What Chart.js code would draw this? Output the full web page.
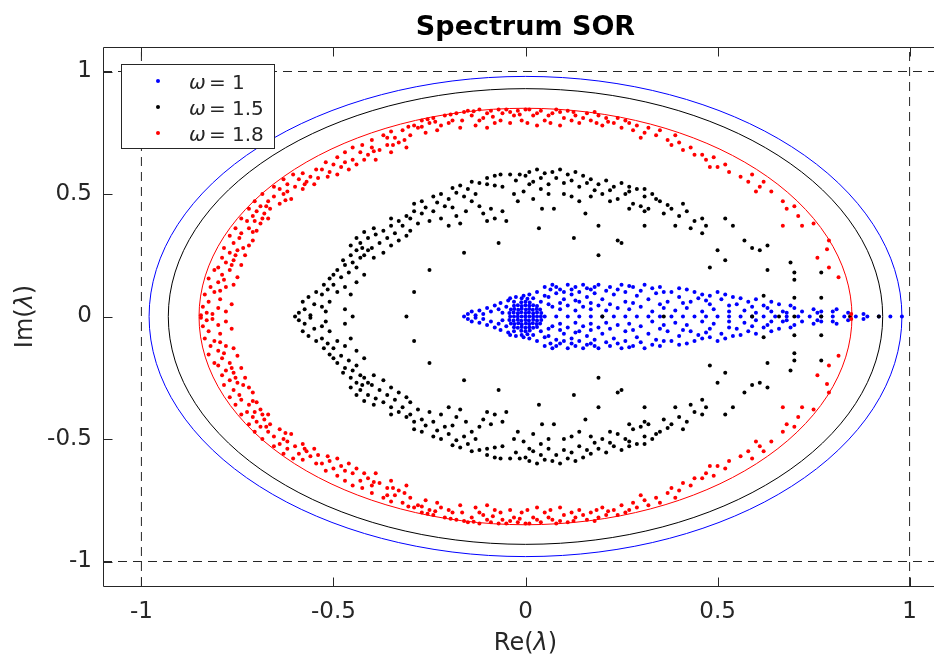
<!DOCTYPE html>
<html><head><meta charset="utf-8">
<script src="https://cdn.jsdelivr.net/npm/chart.js@4/dist/chart.umd.min.js"></script>
<style>html,body{margin:0;padding:0;background:#fff;overflow:hidden;width:934px;height:656px}
#wrap{width:960px;height:656px}</style></head>
<body><div id="wrap"><canvas id="c" width="960" height="656"></canvas></div>
<script>
const titleText = 'Spectrum SOR';
const xRange = [-1.1, 1.1];
const yRange = [-1.1, 1.1];
const xTicks = [-1, -0.5, 0, 0.5, 1];
const yTicks = [-1, -0.5, 0, 0.5, 1];
const xTickLabels = ['-1', '-0.5', '0', '0.5', '1'];
const yTickLabels = ['-1', '-0.5', '0', '0.5', '1'];
const omegaValues = ['1', '1.5', '1.8'];
const seriesColors = ['#0000ff', '#000000', '#ff0000'];
const circleRadii = [0.98, 0.93, 0.85];
const unitBox = [-1, 1];

const bluePts = [
 [-0.04,0],[-0.03,0],[-0.02,0],[-0.01,0],[0,0],[0.01,0],[0.02,0],[0.03,0],[0.04,0],
 [-0.042,0.014],[-0.031,0.016],[-0.02,0.013],[-0.011,0.017],[0.0,0.014],[0.009,0.016],[0.02,0.013],[0.03,0.016],[0.041,0.014],
 [-0.038,0.029],[-0.029,0.031],[-0.019,0.028],[-0.01,0.032],[0.001,0.029],[0.01,0.031],[0.019,0.028],[0.029,0.031],[0.038,0.029],
 [-0.03,0.044],[-0.02,0.046],[-0.01,0.043],[0.0,0.046],[0.01,0.044],[0.02,0.046],[0.03,0.043],
 [-0.011,0.058],[0.0,0.06],[0.011,0.057],
 [-0.042,-0.014],[-0.031,-0.016],[-0.02,-0.013],[-0.011,-0.017],[0.0,-0.014],[0.009,-0.016],[0.02,-0.013],[0.03,-0.016],[0.041,-0.014],
 [-0.038,-0.029],[-0.029,-0.031],[-0.019,-0.028],[-0.01,-0.032],[0.001,-0.029],[0.01,-0.031],[0.019,-0.028],[0.029,-0.031],[0.038,-0.029],
 [-0.03,-0.044],[-0.02,-0.046],[-0.01,-0.043],[0.0,-0.046],[0.01,-0.044],[0.02,-0.046],[0.03,-0.043],
 [-0.011,-0.058],[0.0,-0.06],[0.011,-0.057],
 [-0.16,0],[-0.15,0.01],[-0.14,0.02],[-0.13,0.005],[-0.12,0.025],[-0.11,0.01],[-0.10,0.035],[-0.09,0.02],[-0.08,0.045],[-0.07,0.03],[-0.065,0.055],[-0.06,0.015],[-0.05,0.04],[-0.045,0.065],[-0.04,0.075],[-0.03,0.06],[-0.025,0.08],[-0.01,0.075],[-0.005,0.085],[0.005,0.072],[0.01,0.09],[0.02,0.075],[0.03,0.10],[0.04,0.06],[0.05,0.085],[0.06,0.05],[0.065,0.11],
 [-0.15,-0.01],[-0.14,-0.02],[-0.13,-0.005],[-0.12,-0.025],[-0.11,-0.01],[-0.10,-0.035],[-0.09,-0.02],[-0.08,-0.045],[-0.07,-0.03],[-0.065,-0.055],[-0.06,-0.015],[-0.05,-0.04],[-0.045,-0.065],[-0.04,-0.075],[-0.03,-0.06],[-0.025,-0.08],[-0.01,-0.075],[-0.005,-0.085],[0.005,-0.072],[0.01,-0.09],[0.02,-0.075],[0.03,-0.10],[0.04,-0.06],[0.05,-0.085],[0.06,-0.05],[0.065,-0.11],
 [0.05,0.12],[0.07,0.13],[0.09,0.11],[0.11,0.13],[0.13,0.12],[0.15,0.13],[0.17,0.11],[0.19,0.13],[0.22,0.12],[0.25,0.13],[0.28,0.12],[0.31,0.13],[0.35,0.12],[0.38,0.10],[0.42,0.11],[0.46,0.09],[0.50,0.10],[0.54,0.08],
 [0.06,0.08],[0.08,0.095],[0.10,0.07],[0.12,0.09],[0.14,0.06],[0.16,0.08],[0.18,0.095],[0.20,0.07],[0.23,0.09],[0.26,0.06],[0.29,0.085],[0.32,0.07],[0.34,0.095],[0.37,0.06],[0.40,0.08],[0.43,0.06],[0.45,0.075],[0.48,0.05],[0.51,0.07],[0.55,0.05],[0.58,0.06],[0.62,0.045],[0.66,0.05],[0.70,0.035],
 [0.07,0.04],[0.09,0.03],[0.11,0.045],[0.13,0.025],[0.15,0.04],[0.17,0.03],[0.19,0.045],[0.21,0.025],[0.24,0.035],[0.27,0.03],[0.30,0.04],[0.33,0.02],[0.36,0.035],[0.39,0.025],[0.42,0.035],[0.46,0.02],[0.49,0.03],[0.53,0.02],[0.57,0.025],[0.60,0.015],[0.64,0.02],[0.68,0.015],[0.72,0.02],[0.76,0.015],[0.80,0.02],[0.84,0.015],[0.88,0.01],[0.75,0.03],[0.81,0.03],[0.67,0.02],[0.77,0.02],
 [0.08,0.12],[0.10,0.10],[0.12,0.11],[0.14,0.10],[0.16,0.115],[0.18,0.12],[0.21,0.105],[0.24,0.11],[0.26,0.10],[0.27,0.125],[0.30,0.105],[0.33,0.115],[0.36,0.10],[0.40,0.115],[0.44,0.10],[0.48,0.085],[0.52,0.09],[0.56,0.075],[0.60,0.07],[0.64,0.06],[0.09,0.055],[0.13,0.065],[0.17,0.055],[0.22,0.05],[0.28,0.055],[0.35,0.05],[0.41,0.055],[0.47,0.065],[0.53,0.045],[0.59,0.04],[0.63,0.035],[0.69,0.045],
 [0.05,-0.12],[0.07,-0.13],[0.09,-0.11],[0.11,-0.13],[0.13,-0.12],[0.15,-0.13],[0.17,-0.11],[0.19,-0.13],[0.22,-0.12],[0.25,-0.13],[0.28,-0.12],[0.31,-0.13],[0.35,-0.12],[0.38,-0.10],[0.42,-0.11],[0.46,-0.09],[0.50,-0.10],[0.54,-0.08],
 [0.06,-0.08],[0.08,-0.095],[0.10,-0.07],[0.12,-0.09],[0.14,-0.06],[0.16,-0.08],[0.18,-0.095],[0.20,-0.07],[0.23,-0.09],[0.26,-0.06],[0.29,-0.085],[0.32,-0.07],[0.34,-0.095],[0.37,-0.06],[0.40,-0.08],[0.43,-0.06],[0.45,-0.075],[0.48,-0.05],[0.51,-0.07],[0.55,-0.05],[0.58,-0.06],[0.62,-0.045],[0.66,-0.05],[0.70,-0.035],
 [0.07,-0.04],[0.09,-0.03],[0.11,-0.045],[0.13,-0.025],[0.15,-0.04],[0.17,-0.03],[0.19,-0.045],[0.21,-0.025],[0.24,-0.035],[0.27,-0.03],[0.30,-0.04],[0.33,-0.02],[0.36,-0.035],[0.39,-0.025],[0.42,-0.035],[0.46,-0.02],[0.49,-0.03],[0.53,-0.02],[0.57,-0.025],[0.60,-0.015],[0.64,-0.02],[0.68,-0.015],[0.72,-0.02],[0.76,-0.015],[0.80,-0.02],[0.84,-0.015],[0.88,-0.01],[0.75,-0.03],[0.81,-0.03],[0.67,-0.02],[0.77,-0.02],
 [0.08,-0.12],[0.10,-0.10],[0.12,-0.11],[0.14,-0.10],[0.16,-0.115],[0.18,-0.12],[0.21,-0.105],[0.24,-0.11],[0.26,-0.10],[0.27,-0.125],[0.30,-0.105],[0.33,-0.115],[0.36,-0.10],[0.40,-0.115],[0.44,-0.10],[0.48,-0.085],[0.52,-0.09],[0.56,-0.075],[0.60,-0.07],[0.64,-0.06],[0.09,-0.055],[0.13,-0.065],[0.17,-0.055],[0.22,-0.05],[0.28,-0.055],[0.35,-0.05],[0.41,-0.055],[0.47,-0.065],[0.53,-0.045],[0.59,-0.04],[0.63,-0.035],[0.69,-0.045],
 [0.05,0],[0.08,0],[0.11,0],[0.14,0],[0.17,0],[0.20,0],[0.23,0],[0.26,0],[0.29,0],[0.32,0],[0.35,0],[0.38,0],[0.41,0],[0.44,0],[0.47,0],[0.50,0],[0.53,0],[0.56,0],[0.59,0],[0.62,0],[0.65,0],[0.68,0],[0.71,0],[0.74,0],[0.77,0],[0.80,0],[0.83,0],[0.86,0],[0.89,0],[0.92,0],[0.95,0],[0.98,0]
];

const blackPts = [
 [-0.60,0],[-0.59,0.015],[-0.575,0.03],[-0.56,0.005],[-0.55,0.05],[-0.53,0.04],[-0.51,0.06],[-0.47,0.03],[-0.45,0],[-0.52,0.02],
 [-0.53,0.09],[-0.515,0.11],[-0.50,0.13],[-0.49,0.10],[-0.47,0.12],[-0.455,0.09],[-0.44,0.14],[-0.48,0.16],[-0.46,0.18],[-0.50,0.17],[-0.44,0.20],[-0.42,0.17],[-0.47,0.21],
 [-0.44,0.27],[-0.43,0.30],[-0.42,0.25],[-0.41,0.32],[-0.40,0.28],[-0.39,0.335],[-0.38,0.30],[-0.37,0.26],[-0.36,0.32],[-0.35,0.29],[-0.34,0.34],[-0.33,0.31],[-0.31,0.33],[-0.30,0.35],[-0.395,0.24],
 [-0.32,0.37],[-0.30,0.40],[-0.28,0.38],[-0.27,0.42],[-0.25,0.39],[-0.24,0.43],[-0.22,0.40],[-0.20,0.37],[-0.18,0.41],[-0.17,0.38],[-0.29,0.43],
 [-0.24,0.49],[-0.22,0.50],[-0.20,0.48],[-0.18,0.505],[-0.16,0.49],[-0.14,0.47],[-0.12,0.45],[-0.11,0.42],[-0.09,0.44],[-0.08,0.40],[-0.06,0.43],[-0.05,0.39],[-0.10,0.39],
 [-0.14,0.55],[-0.12,0.545],[-0.10,0.54],[-0.08,0.535],[-0.06,0.53],[-0.065,0.58],[-0.04,0.58],[-0.015,0.58],[-0.03,0.50],[-0.005,0.51],
 [0.01,0.59],[0.03,0.60],[0.05,0.585],[0.07,0.59],[0.09,0.60],[0.11,0.58],[0.13,0.59],[0.15,0.575],[0.02,0.55],[0.06,0.54],[0.10,0.545],[0.14,0.53],[0.01,0.54],[0.10,0.50],[0.14,0.47],
 [0.17,0.56],[0.19,0.54],[0.21,0.555],[0.23,0.53],[0.25,0.545],[0.27,0.51],[0.29,0.52],[0.31,0.49],[0.33,0.50],[0.35,0.47],[0.20,0.50],[0.24,0.48],[0.28,0.46],[0.32,0.44],[0.36,0.42],[0.26,0.50],[0.30,0.45],
 [0.38,0.44],[0.40,0.41],[0.42,0.43],[0.44,0.39],[0.46,0.40],[0.47,0.37],[0.39,0.37],[0.43,0.36],[0.41,0.46],
 [0.035,0.36],[0.043,0.44],[0.074,0.44],[0.126,0.32],[0.156,0.42],[0.19,0.37],[0.19,0.25],[0.24,0.31],[0.25,0.30],[0.31,0.37],[0.46,0.34],[0.50,0.27],[0.52,0.23],[0.48,0.20],[0.52,0.40],[0.54,0.37],[0.57,0.31],[0.59,0.28],[0.61,0.27],[0.63,0.29],[0.69,0.22],[0.63,0.19],[0.70,0.18],[0.77,0.18],[0.70,0.15],[0.70,0.077],[0.77,0.077],[0.62,0.085],
 [-0.29,0.10],[-0.25,0.19],[-0.16,0.26],[-0.07,0.30],
 [-0.58,0.06],[-0.565,0.08],[-0.545,0.10],[-0.525,0.13],[-0.51,0.155],[-0.49,0.19],[-0.475,0.23],[-0.455,0.25],[-0.45,0.22],[-0.43,0.24],[-0.425,0.28],[-0.41,0.27],[-0.455,0.29],[-0.44,0.32],[-0.42,0.345],[-0.395,0.36],[-0.37,0.35],[-0.35,0.37],[-0.33,0.39],[-0.31,0.41],[-0.35,0.40],[-0.29,0.46],[-0.27,0.47],[-0.26,0.445],[-0.23,0.465],[-0.21,0.45],[-0.19,0.445],[-0.155,0.43],[-0.13,0.50],[-0.15,0.52],[-0.17,0.535],[-0.19,0.525],[-0.10,0.565],[-0.08,0.575],[-0.025,0.555],[0.0,0.575],[0.04,0.565],[0.08,0.565],[0.12,0.555],[0.16,0.545],[0.18,0.515],[0.22,0.515],[0.27,0.53],[0.31,0.52],[0.34,0.48],[0.37,0.455],[0.31,0.43],[0.27,0.44],[0.22,0.47],[0.17,0.49],[0.12,0.49],[0.06,0.50],[0.04,0.52],[-0.02,0.47],[0.02,0.48],
 [-0.59,-0.015],[-0.575,-0.03],[-0.56,-0.005],[-0.55,-0.05],[-0.53,-0.04],[-0.51,-0.06],[-0.47,-0.03],[-0.52,-0.02],
 [-0.53,-0.09],[-0.515,-0.11],[-0.50,-0.13],[-0.49,-0.10],[-0.47,-0.12],[-0.455,-0.09],[-0.44,-0.14],[-0.48,-0.16],[-0.46,-0.18],[-0.50,-0.17],[-0.44,-0.20],[-0.42,-0.17],[-0.47,-0.21],
 [-0.44,-0.27],[-0.43,-0.30],[-0.42,-0.25],[-0.41,-0.32],[-0.40,-0.28],[-0.39,-0.335],[-0.38,-0.30],[-0.37,-0.26],[-0.36,-0.32],[-0.35,-0.29],[-0.34,-0.34],[-0.33,-0.31],[-0.31,-0.33],[-0.30,-0.35],[-0.395,-0.24],
 [-0.32,-0.37],[-0.30,-0.40],[-0.28,-0.38],[-0.27,-0.42],[-0.25,-0.39],[-0.24,-0.43],[-0.22,-0.40],[-0.20,-0.37],[-0.18,-0.41],[-0.17,-0.38],[-0.29,-0.43],
 [-0.24,-0.49],[-0.22,-0.50],[-0.20,-0.48],[-0.18,-0.505],[-0.16,-0.49],[-0.14,-0.47],[-0.12,-0.45],[-0.11,-0.42],[-0.09,-0.44],[-0.08,-0.40],[-0.06,-0.43],[-0.05,-0.39],[-0.10,-0.39],
 [-0.14,-0.55],[-0.12,-0.545],[-0.10,-0.54],[-0.08,-0.535],[-0.06,-0.53],[-0.065,-0.58],[-0.04,-0.58],[-0.015,-0.58],[-0.03,-0.50],[-0.005,-0.51],
 [0.01,-0.59],[0.03,-0.60],[0.05,-0.585],[0.07,-0.59],[0.09,-0.60],[0.11,-0.58],[0.13,-0.59],[0.15,-0.575],[0.02,-0.55],[0.06,-0.54],[0.10,-0.545],[0.14,-0.53],[0.01,-0.54],[0.10,-0.50],[0.14,-0.47],
 [0.17,-0.56],[0.19,-0.54],[0.21,-0.555],[0.23,-0.53],[0.25,-0.545],[0.27,-0.51],[0.29,-0.52],[0.31,-0.49],[0.33,-0.50],[0.35,-0.47],[0.20,-0.50],[0.24,-0.48],[0.28,-0.46],[0.32,-0.44],[0.36,-0.42],[0.26,-0.50],[0.30,-0.45],
 [0.38,-0.44],[0.40,-0.41],[0.42,-0.43],[0.44,-0.39],[0.46,-0.40],[0.47,-0.37],[0.39,-0.37],[0.43,-0.36],[0.41,-0.46],
 [0.035,-0.36],[0.043,-0.44],[0.074,-0.44],[0.126,-0.32],[0.156,-0.42],[0.19,-0.37],[0.19,-0.25],[0.24,-0.31],[0.25,-0.30],[0.31,-0.37],[0.46,-0.34],[0.50,-0.27],[0.52,-0.23],[0.48,-0.20],[0.52,-0.40],[0.54,-0.37],[0.57,-0.31],[0.59,-0.28],[0.61,-0.27],[0.63,-0.29],[0.69,-0.22],[0.63,-0.19],[0.70,-0.18],[0.77,-0.18],[0.70,-0.15],[0.70,-0.077],[0.77,-0.077],[0.62,-0.085],
 [-0.29,-0.10],[-0.25,-0.19],[-0.16,-0.26],[-0.07,-0.30],
 [-0.58,-0.06],[-0.565,-0.08],[-0.545,-0.10],[-0.525,-0.13],[-0.51,-0.155],[-0.49,-0.19],[-0.475,-0.23],[-0.455,-0.25],[-0.45,-0.22],[-0.43,-0.24],[-0.425,-0.28],[-0.41,-0.27],[-0.455,-0.29],[-0.44,-0.32],[-0.42,-0.345],[-0.395,-0.36],[-0.37,-0.35],[-0.35,-0.37],[-0.33,-0.39],[-0.31,-0.41],[-0.35,-0.40],[-0.29,-0.46],[-0.27,-0.47],[-0.26,-0.445],[-0.23,-0.465],[-0.21,-0.45],[-0.19,-0.445],[-0.155,-0.43],[-0.13,-0.50],[-0.15,-0.52],[-0.17,-0.535],[-0.19,-0.525],[-0.10,-0.565],[-0.08,-0.575],[-0.025,-0.555],[0.0,-0.575],[0.04,-0.565],[0.08,-0.565],[0.12,-0.555],[0.16,-0.545],[0.18,-0.515],[0.22,-0.515],[0.27,-0.53],[0.31,-0.52],[0.34,-0.48],[0.37,-0.455],[0.31,-0.43],[0.27,-0.44],[0.22,-0.47],[0.17,-0.49],[0.12,-0.49],[0.06,-0.50],[0.04,-0.52],[-0.02,-0.47],[0.02,-0.48],
 [-0.31,0],[0.20,0],[0.36,0],[0.59,0],[0.66,0],[0.70,0],[0.77,0],[0.845,0],[0.92,0]
];

const redPts = [
 [-0.845,0.005],[-0.83,0.015],[-0.815,0.01],[-0.84,0.04],[-0.80,0.035],[-0.78,0.02],[-0.825,0.06],[-0.795,0.07],[-0.765,0.05],
 [-0.81,0.10],[-0.78,0.12],[-0.80,0.14],[-0.76,0.13],[-0.79,0.17],[-0.77,0.19],[-0.75,0.16],[-0.81,0.19],
 [-0.78,0.22],[-0.76,0.23],[-0.74,0.21],[-0.77,0.26],[-0.75,0.27],[-0.73,0.25],[-0.76,0.30],[-0.72,0.29],[-0.745,0.32],[-0.71,0.31],
 [-0.74,0.34],[-0.72,0.36],[-0.70,0.35],[-0.725,0.39],[-0.69,0.38],[-0.71,0.41],[-0.67,0.40],[-0.70,0.43],[-0.68,0.42],
 [-0.69,0.45],[-0.665,0.44],[-0.67,0.47],[-0.64,0.46],[-0.655,0.49],[-0.63,0.50],[-0.61,0.48],[-0.64,0.52],[-0.62,0.51],
 [-0.62,0.54],[-0.60,0.53],[-0.59,0.56],[-0.57,0.55],[-0.56,0.57],[-0.58,0.52],[-0.55,0.54],
 [-0.53,0.60],[-0.51,0.59],[-0.50,0.62],[-0.48,0.61],[-0.47,0.63],[-0.46,0.60],[-0.45,0.64],[-0.49,0.58],
 [-0.43,0.67],[-0.41,0.66],[-0.40,0.69],[-0.38,0.68],[-0.36,0.70],[-0.35,0.67],[-0.33,0.71],[-0.31,0.69],[-0.39,0.64],
 [-0.40,0.72],[-0.37,0.74],[-0.34,0.73],[-0.32,0.76],[-0.30,0.74],[-0.28,0.77],
 [-0.29,0.78],[-0.27,0.80],[-0.25,0.79],[-0.24,0.81],[-0.22,0.78],[-0.21,0.82],[-0.19,0.80],[-0.18,0.83],[-0.26,0.75],[-0.23,0.76],[-0.17,0.77],
 [-0.15,0.84],[-0.14,0.82],[-0.12,0.845],[-0.11,0.81],[-0.09,0.84],[-0.08,0.79],[-0.06,0.83],[-0.05,0.845],[-0.03,0.82],[-0.02,0.84],[-0.01,0.80],[-0.13,0.78],[-0.10,0.77],
 [0.01,0.845],[0.02,0.82],[0.04,0.84],[0.05,0.80],[0.07,0.83],[0.08,0.845],[0.10,0.81],[0.11,0.84],[0.13,0.82],[0.14,0.79],[0.16,0.83],[0.17,0.80],[0.19,0.82],[0.20,0.78],[0.21,0.81],[0.03,0.78],[0.09,0.78],
 [0.23,0.79],[0.25,0.77],[0.26,0.80],[0.28,0.76],[0.29,0.78],[0.31,0.75],[0.32,0.77],[0.34,0.74],[0.35,0.76],[0.30,0.73],
 [0.37,0.72],[0.38,0.70],[0.40,0.71],[0.41,0.68],[0.43,0.69],[0.44,0.66],[0.39,0.74],
 [0.46,0.66],[0.47,0.64],[0.49,0.65],[0.50,0.61],[0.52,0.62],[0.53,0.59],[0.48,0.61],
 [0.56,0.57],[0.58,0.55],[0.59,0.58],[0.61,0.53],[0.62,0.55],[0.64,0.51],[0.60,0.51],
 [0.67,0.47],[0.68,0.44],[0.70,0.45],[0.71,0.41],[0.75,0.38],[0.72,0.37],[0.67,0.37],
 [0.79,0.31],[0.785,0.275],[0.76,0.24],[0.79,0.20],[0.815,0.16],[0.848,0.01],
 [-0.835,0.09],[-0.82,0.12],[-0.795,0.105],[-0.825,0.155],[-0.785,0.15],[-0.80,0.20],[-0.79,0.24],[-0.765,0.21],[-0.785,0.28],[-0.755,0.25],[-0.77,0.33],[-0.735,0.28],[-0.755,0.36],[-0.71,0.345],[-0.74,0.40],[-0.705,0.39],[-0.72,0.44],[-0.685,0.40],[-0.705,0.47],[-0.675,0.45],[-0.685,0.50],[-0.655,0.53],[-0.625,0.475],[-0.63,0.56],[-0.605,0.58],[-0.58,0.585],[-0.575,0.54],[-0.545,0.60],[-0.54,0.565],[-0.52,0.63],[-0.515,0.57],[-0.49,0.65],[-0.47,0.67],[-0.44,0.62],[-0.45,0.69],[-0.425,0.70],[-0.42,0.64],[-0.395,0.675],[-0.36,0.73],[-0.35,0.755],[-0.345,0.70],[-0.315,0.72],[-0.305,0.775],[-0.27,0.775],[-0.255,0.805],[-0.235,0.795],[-0.20,0.79],[-0.195,0.825],[-0.165,0.80],[-0.16,0.835],[-0.135,0.838],[-0.12,0.80],[-0.10,0.83],[-0.085,0.815],[-0.07,0.845],[-0.065,0.80],[-0.04,0.835],[-0.04,0.79],[-0.015,0.825],[0.0,0.845],[0.005,0.79],[0.03,0.83],[0.06,0.82],[0.065,0.79],[0.09,0.835],[0.12,0.80],[0.125,0.835],[0.15,0.81],[0.18,0.835],[0.185,0.79],[0.215,0.795],[0.24,0.81],[0.27,0.79],
 [-0.845,-0.005],[-0.83,-0.015],[-0.815,-0.01],[-0.84,-0.04],[-0.80,-0.035],[-0.78,-0.02],[-0.825,-0.06],[-0.795,-0.07],[-0.765,-0.05],
 [-0.81,-0.10],[-0.78,-0.12],[-0.80,-0.14],[-0.76,-0.13],[-0.79,-0.17],[-0.77,-0.19],[-0.75,-0.16],[-0.81,-0.19],
 [-0.78,-0.22],[-0.76,-0.23],[-0.74,-0.21],[-0.77,-0.26],[-0.75,-0.27],[-0.73,-0.25],[-0.76,-0.30],[-0.72,-0.29],[-0.745,-0.32],[-0.71,-0.31],
 [-0.74,-0.34],[-0.72,-0.36],[-0.70,-0.35],[-0.725,-0.39],[-0.69,-0.38],[-0.71,-0.41],[-0.67,-0.40],[-0.70,-0.43],[-0.68,-0.42],
 [-0.69,-0.45],[-0.665,-0.44],[-0.67,-0.47],[-0.64,-0.46],[-0.655,-0.49],[-0.63,-0.50],[-0.61,-0.48],[-0.64,-0.52],[-0.62,-0.51],
 [-0.62,-0.54],[-0.60,-0.53],[-0.59,-0.56],[-0.57,-0.55],[-0.56,-0.57],[-0.58,-0.52],[-0.55,-0.54],
 [-0.53,-0.60],[-0.51,-0.59],[-0.50,-0.62],[-0.48,-0.61],[-0.47,-0.63],[-0.46,-0.60],[-0.45,-0.64],[-0.49,-0.58],
 [-0.43,-0.67],[-0.41,-0.66],[-0.40,-0.69],[-0.38,-0.68],[-0.36,-0.70],[-0.35,-0.67],[-0.33,-0.71],[-0.31,-0.69],[-0.39,-0.64],
 [-0.40,-0.72],[-0.37,-0.74],[-0.34,-0.73],[-0.32,-0.76],[-0.30,-0.74],[-0.28,-0.77],
 [-0.29,-0.78],[-0.27,-0.80],[-0.25,-0.79],[-0.24,-0.81],[-0.22,-0.78],[-0.21,-0.82],[-0.19,-0.80],[-0.18,-0.83],[-0.26,-0.75],[-0.23,-0.76],[-0.17,-0.77],
 [-0.15,-0.84],[-0.14,-0.82],[-0.12,-0.845],[-0.11,-0.81],[-0.09,-0.84],[-0.08,-0.79],[-0.06,-0.83],[-0.05,-0.845],[-0.03,-0.82],[-0.02,-0.84],[-0.01,-0.80],[-0.13,-0.78],[-0.10,-0.77],
 [0.01,-0.845],[0.02,-0.82],[0.04,-0.84],[0.05,-0.80],[0.07,-0.83],[0.08,-0.845],[0.10,-0.81],[0.11,-0.84],[0.13,-0.82],[0.14,-0.79],[0.16,-0.83],[0.17,-0.80],[0.19,-0.82],[0.20,-0.78],[0.21,-0.81],[0.03,-0.78],[0.09,-0.78],
 [0.23,-0.79],[0.25,-0.77],[0.26,-0.80],[0.28,-0.76],[0.29,-0.78],[0.31,-0.75],[0.32,-0.77],[0.34,-0.74],[0.35,-0.76],[0.30,-0.73],
 [0.37,-0.72],[0.38,-0.70],[0.40,-0.71],[0.41,-0.68],[0.43,-0.69],[0.44,-0.66],[0.39,-0.74],
 [0.46,-0.66],[0.47,-0.64],[0.49,-0.65],[0.50,-0.61],[0.52,-0.62],[0.53,-0.59],[0.48,-0.61],
 [0.56,-0.57],[0.58,-0.55],[0.59,-0.58],[0.61,-0.53],[0.62,-0.55],[0.64,-0.51],[0.60,-0.51],
 [0.67,-0.47],[0.68,-0.44],[0.70,-0.45],[0.71,-0.41],[0.75,-0.38],[0.72,-0.37],[0.67,-0.37],
 [0.79,-0.31],[0.785,-0.275],[0.76,-0.24],[0.79,-0.20],[0.815,-0.16],[0.848,-0.01],
 [-0.835,-0.09],[-0.82,-0.12],[-0.795,-0.105],[-0.825,-0.155],[-0.785,-0.15],[-0.80,-0.20],[-0.79,-0.24],[-0.765,-0.21],[-0.785,-0.28],[-0.755,-0.25],[-0.77,-0.33],[-0.735,-0.28],[-0.755,-0.36],[-0.71,-0.345],[-0.74,-0.40],[-0.705,-0.39],[-0.72,-0.44],[-0.685,-0.40],[-0.705,-0.47],[-0.675,-0.45],[-0.685,-0.50],[-0.655,-0.53],[-0.625,-0.475],[-0.63,-0.56],[-0.605,-0.58],[-0.58,-0.585],[-0.575,-0.54],[-0.545,-0.60],[-0.54,-0.565],[-0.52,-0.63],[-0.515,-0.57],[-0.49,-0.65],[-0.47,-0.67],[-0.44,-0.62],[-0.45,-0.69],[-0.425,-0.70],[-0.42,-0.64],[-0.395,-0.675],[-0.36,-0.73],[-0.35,-0.755],[-0.345,-0.70],[-0.315,-0.72],[-0.305,-0.775],[-0.27,-0.775],[-0.255,-0.805],[-0.235,-0.795],[-0.20,-0.79],[-0.195,-0.825],[-0.165,-0.80],[-0.16,-0.835],[-0.135,-0.838],[-0.12,-0.80],[-0.10,-0.83],[-0.085,-0.815],[-0.07,-0.845],[-0.065,-0.80],[-0.04,-0.835],[-0.04,-0.79],[-0.015,-0.825],[0.0,-0.845],[0.005,-0.79],[0.03,-0.83],[0.06,-0.82],[0.065,-0.79],[0.09,-0.835],[0.12,-0.80],[0.125,-0.835],[0.15,-0.81],[0.18,-0.835],[0.185,-0.79],[0.215,-0.795],[0.24,-0.81],[0.27,-0.79]
];

const FONT = '"DejaVu Sans", "Liberation Sans", sans-serif';
const TXT = '#262626';

function drawMixed(ctx, parts, x, y, align) {
  let total = 0;
  parts.forEach(p => { ctx.font = p.f; p.w = ctx.measureText(p.t).width; total += p.w; });
  let cx = align === 'center' ? x - total / 2 : x;
  ctx.textAlign = 'left';
  parts.forEach(p => { ctx.font = p.f; ctx.fillText(p.t, cx, y); cx += p.w; });
}

const framePlugin = {
  id: 'frame',
  afterDatasetsDraw(chart) {
    const {ctx, chartArea: a, scales: {x, y}} = chart;
    ctx.save();
    ctx.beginPath(); ctx.rect(a.left, a.top, a.right - a.left, a.bottom - a.top); ctx.clip();
    const x0 = x.getPixelForValue(0), y0 = y.getPixelForValue(0);
    circleRadii.forEach((r, i) => {
      const rx = x.getPixelForValue(r) - x0, ry = y0 - y.getPixelForValue(r);
      ctx.beginPath(); ctx.ellipse(x0, y0, rx, ry, 0, 0, Math.PI * 2);
      ctx.strokeStyle = seriesColors[i]; ctx.lineWidth = 1; ctx.stroke();
    });
    ctx.restore();
  },
  afterDraw(chart) {
    const {ctx, chartArea: a, scales: {x, y}} = chart;
    ctx.save();
    ctx.strokeStyle = TXT; ctx.lineWidth = 1;
    const L = Math.round(a.left) + 0.5, R = Math.round(a.right) + 0.5, T = Math.round(a.top) + 0.5, B = Math.round(a.bottom) + 0.5;
    ctx.beginPath();
    ctx.moveTo(L, T); ctx.lineTo(R, T); ctx.lineTo(R, B); ctx.lineTo(L, B); ctx.closePath();
    ctx.stroke();
    const tl = 9;
    ctx.beginPath();
    xTicks.forEach(v => {
      const px = Math.round(x.getPixelForValue(v)) + 0.5;
      ctx.moveTo(px, B); ctx.lineTo(px, B - tl);
      ctx.moveTo(px, T); ctx.lineTo(px, T + tl);
    });
    yTicks.forEach(v => {
      const py = Math.round(y.getPixelForValue(v)) + 0.5;
      ctx.moveTo(L, py); ctx.lineTo(L + tl, py);
      ctx.moveTo(R, py); ctx.lineTo(R - tl, py);
    });
    ctx.stroke();

    ctx.fillStyle = '#000';
    ctx.font = 'bold 27px ' + FONT;
    ctx.textAlign = 'center'; ctx.textBaseline = 'alphabetic';
    ctx.fillText(titleText, (a.left + a.right) / 2, 35);

    ctx.fillStyle = TXT;
    const nf = '24px ' + FONT, itf = 'italic 24px ' + FONT;
    drawMixed(ctx, [{t: 'Re(', f: nf}, {t: 'λ', f: itf}, {t: ')', f: nf}], (a.left + a.right) / 2, 650, 'center');
    ctx.save();
    ctx.translate(32, (a.top + a.bottom) / 2);
    ctx.rotate(-Math.PI / 2);
    drawMixed(ctx, [{t: 'Im(', f: nf}, {t: 'λ', f: itf}, {t: ')', f: nf}], 0, 0, 'center');
    ctx.restore();

    const bx = 121.5, by = 64.5, bw = 153, bh = 84;
    ctx.fillStyle = '#fff'; ctx.fillRect(bx, by, bw, bh);
    ctx.strokeStyle = TXT; ctx.strokeRect(bx, by, bw, bh);
    const rowY = [81, 107, 133];
    omegaValues.forEach((w, i) => {
      ctx.fillStyle = seriesColors[i];
      ctx.beginPath(); ctx.arc(158, rowY[i], 2, 0, Math.PI * 2); ctx.fill();
      ctx.fillStyle = TXT;
      ctx.textAlign = 'left';
      ctx.font = 'italic 20px ' + FONT; ctx.fillText('ω', 189, rowY[i] + 8);
      ctx.font = '20px ' + FONT; ctx.fillText('=', 209, rowY[i] + 8);
      ctx.fillText(w, 232, rowY[i] + 8);
    });
    ctx.restore();
  }
};

const ptDs = (pts, i, order) => ({
  label: 'ω = ' + omegaValues[i], data: pts, showLine: false,
  pointRadius: 2, pointHoverRadius: 2, pointBorderWidth: 0,
  backgroundColor: seriesColors[i], borderColor: seriesColors[i], order
});
const dashDs = [];
unitBox.forEach(v => {
  dashDs.push({data: [[v, yRange[0]], [v, yRange[1]]]});
  dashDs.push({data: [[xRange[0], v], [xRange[1], v]]});
});

new Chart(document.getElementById('c'), {
  type: 'scatter',
  data: {
    datasets: [
      ptDs(bluePts, 0, 5), ptDs(blackPts, 1, 4), ptDs(redPts, 2, 3),
      ...dashDs.map(d => ({label: '', data: d.data, showLine: true, pointRadius: 0, borderColor: TXT, borderWidth: 1, borderDash: [9, 6], order: 6}))
    ]
  },
  options: {
    responsive: false, animation: false, devicePixelRatio: 1,
    layout: {padding: {top: 47, left: 0, right: 12, bottom: 0}},
    plugins: {legend: {display: false}, tooltip: {enabled: false}, title: {display: false}},
    events: [],
    scales: {
      x: {
        type: 'linear', min: xRange[0], max: xRange[1],
        afterBuildTicks: s => { s.ticks = xTicks.map(v => ({value: v})); },
        afterFit: s => { s.height = 70; },
        grid: {display: false, drawTicks: false}, border: {display: false},
        ticks: {color: TXT, font: {family: FONT, size: 23}, padding: 12, maxRotation: 0,
          callback: (v) => xTickLabels[xTicks.indexOf(v)] ?? ''}
      },
      y: {
        type: 'linear', min: yRange[0], max: yRange[1],
        afterBuildTicks: s => { s.ticks = yTicks.map(v => ({value: v})); },
        afterFit: s => { s.width = 103; },
        grid: {display: false, drawTicks: false}, border: {display: false},
        ticks: {color: TXT, font: {family: FONT, size: 23}, padding: 11,
          callback: (v) => yTickLabels[yTicks.indexOf(v)] ?? ''}
      }
    }
  },
  plugins: [framePlugin]
});
</script>
</body></html>
